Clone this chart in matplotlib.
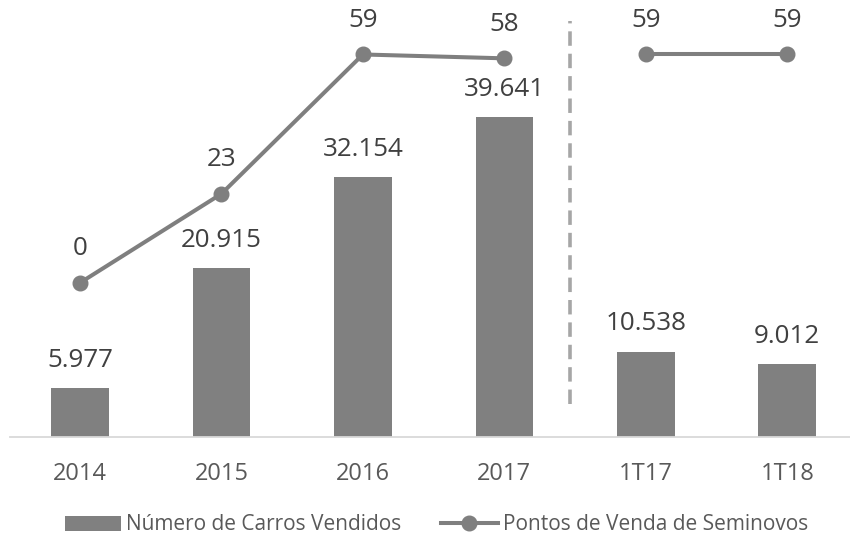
import numpy as np
import matplotlib
matplotlib.use("Agg")
import matplotlib.pyplot as plt

plt.rcParams['font.family'] = ['Open Sans', 'DejaVu Sans']

# data
categorias = ["2014", "2015", "2016", "2017", "1T17", "1T18"]
carros_vendidos = [5977, 20915, 32154, 39641, 10538, 9012]
pontos_venda = [0, 23, 59, 58, 59, 59]
corte = 4  # line breaks between annual and quarterly values

BAR_COLOR = "#808080"
LINE_COLOR = "#7f7f7f"
TEXT_COLOR = "#404040"
TICK_COLOR = "#595959"

W, H = 850, 537
fig = plt.figure(figsize=(W / 100, H / 100), dpi=100)

# axes box in pixels (left, right, bottom, top measured from top edge)
L, R, B, T = 10, 850, 436.5, 10
ax = fig.add_axes([L / W, (H - B) / H, (R - L) / W, (B - T) / H])
ax2 = ax.twinx()

x = np.arange(len(categorias))

ax.bar(x, carros_vendidos, width=0.407, color=BAR_COLOR, zorder=2,
       label="Número de Carros Vendidos")

ax2.plot(x[:corte], pontos_venda[:corte], color=LINE_COLOR, lw=2.9,
         marker="o", ms=10.5, zorder=3, label="Pontos de Venda de Seminovos")
ax2.plot(x[corte:], pontos_venda[corte:], color=LINE_COLOR, lw=2.9,
         marker="o", ms=10.5, zorder=3)

# scales chosen so the marks line up with the reference
px1 = 319.5 / 39641
ax.set_ylim(0, (B - T) / px1)
px2 = 3.87
zero2 = 282.8
ax2.set_ylim(-(B - zero2) / px2, (zero2 - T) / px2)
ax.set_xlim((L - 80) / 141.45, (R - 80) / 141.45)

# labels
for xi, v in zip(x, carros_vendidos):
    ax.annotate(f"{v:,}".replace(",", "."), (xi, v), xytext=(0, 20),
                textcoords="offset points", ha="center", va="center",
                fontsize=18.7, color=TEXT_COLOR)
for xi, v in zip(x, pontos_venda):
    ax2.annotate(str(v), (xi, v), xytext=(0, 24.5),
                 textcoords="offset points", ha="center", va="center",
                 fontsize=18.7, color=TEXT_COLOR)

# dashed separator
ax.axvline(corte - 0.536, ymin=(B - 404) / (B - T), ymax=(B - 21) / (B - T),
           color="#a6a6a6", lw=2.6, ls=(0, (4, 2.2)), zorder=1)

for a in (ax, ax2):
    for s in a.spines.values():
        s.set_visible(False)
    a.set_yticks([])
ax.spines["bottom"].set_visible(True)
ax.spines["bottom"].set_color("#d9d9d9")
ax.spines["bottom"].set_linewidth(1.3)

ax.set_xticks(x)
ax.set_xticklabels(categorias, fontsize=17, color=TICK_COLOR)
ax.tick_params(axis="x", length=0, pad=18)

h1, l1 = ax.get_legend_handles_labels()
h2, l2 = ax2.get_legend_handles_labels()
leg = fig.legend(h1 + h2, l1 + l2, loc="center", ncol=2,
                 bbox_to_anchor=(436.5 / W, (H - 525) / H), frameon=False,
                 fontsize=15, handlelength=2.7, handletextpad=0.25,
                 columnspacing=1.9, labelcolor=TICK_COLOR)

fig.savefig("out.png", dpi=100)
